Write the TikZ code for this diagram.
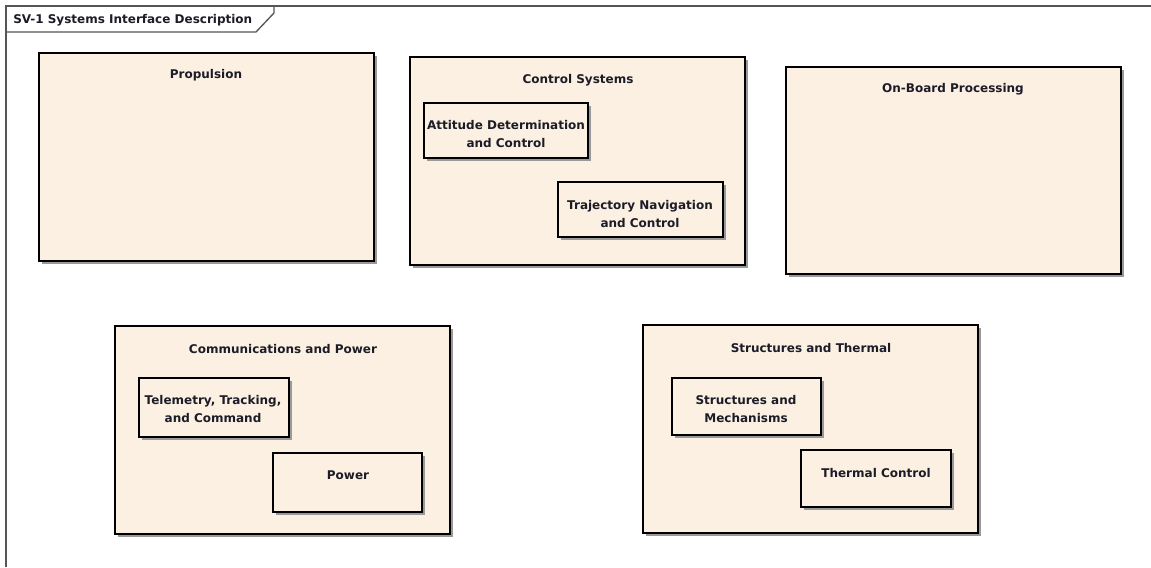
\documentclass[tikz,border=0pt]{standalone}
\usepackage{fontspec}
\setmainfont{DejaVu Sans}
\usetikzlibrary{fit,shadows}
\definecolor{blockfill}{RGB}{251,240,225}
\definecolor{inktext}{RGB}{28,28,40}
\definecolor{framegray}{RGB}{85,85,85}
\tikzset{
  block/.style={draw=black, line width=1.8pt, fill=blockfill, inner sep=0pt, outer sep=0pt,
    drop shadow={shadow xshift=2.6pt, shadow yshift=-2.6pt, fill=black!40, opacity=1}},
  caption/.style={font=\bfseries\fontsize{9}{13.5}\selectfont, text=inktext, align=center, inner sep=0pt},
  framestyle/.style={draw=framegray, line width=1.4pt},
  tabstyle/.style={draw=framegray, line width=1pt}
}
\begin{document}
\begin{tikzpicture}[x=0.75pt,y=-0.75pt]
\useasboundingbox (0,0) rectangle (1151,567);
\fill[white] (0,0) rectangle (1151,567);

% diagram frame and name tab
\coordinate (fbl) at (6,567);
\coordinate (ftl) at (6,6);
\coordinate (ftr) at (1151,6);
\draw[framestyle] (fbl) -- (ftl) -- (ftr);
\coordinate (tabl) at (6,32);
\coordinate (tabb) at (256,32);
\coordinate (tabs) at (274,13);
\coordinate (tabt) at (274,6);
\draw[tabstyle] (tabl) -- (tabb) -- (tabs) -- (tabt);
\node[caption, anchor=west] (frametitle) at (13,20) {SV-1 Systems Interface Description};

% top row subsystems
\node[block, fit={(39,53) (374,261)}] (prop) {};
\node[caption] (proptitle) at (206,75) {Propulsion};

\node[block, fit={(410,57) (745,265)}] (ctrl) {};
\node[caption] (ctrltitle) at (578,80) {Control Systems};
\node[block, fit={(424,103) (588,158)}] (adc) {};
\node[caption] (adctext) at (506,134) {Attitude Determination\\and Control};
\node[block, fit={(558,182) (723,237)}] (tnc) {};
\node[caption] (tnctext) at (640,214) {Trajectory Navigation\\and Control};

\node[block, fit={(786,67) (1121,274)}] (obp) {};
\node[caption] (obptitle) at (953,89) {On-Board Processing};

% bottom row subsystems
\node[block, fit={(115,326) (450,534)}] (comm) {};
\node[caption] (commtitle) at (283,349) {Communications and Power};
\node[block, fit={(139,378) (289,437)}] (ttc) {};
\node[caption] (ttctext) at (213,409) {Telemetry, Tracking,\\and Command};
\node[block, fit={(273,453) (422,512)}] (pwr) {};
\node[caption] (pwrtext) at (348,475) {Power};

\node[block, fit={(643,325) (978,533)}] (st) {};
\node[caption] (sttitle) at (811,348) {Structures and Thermal};
\node[block, fit={(672,378) (821,435)}] (sm) {};
\node[caption] (smtext) at (746,409) {Structures and\\Mechanisms};
\node[block, fit={(801,450) (951,507)}] (tc) {};
\node[caption] (tctext) at (876,473) {Thermal Control};
\end{tikzpicture}
\end{document}
